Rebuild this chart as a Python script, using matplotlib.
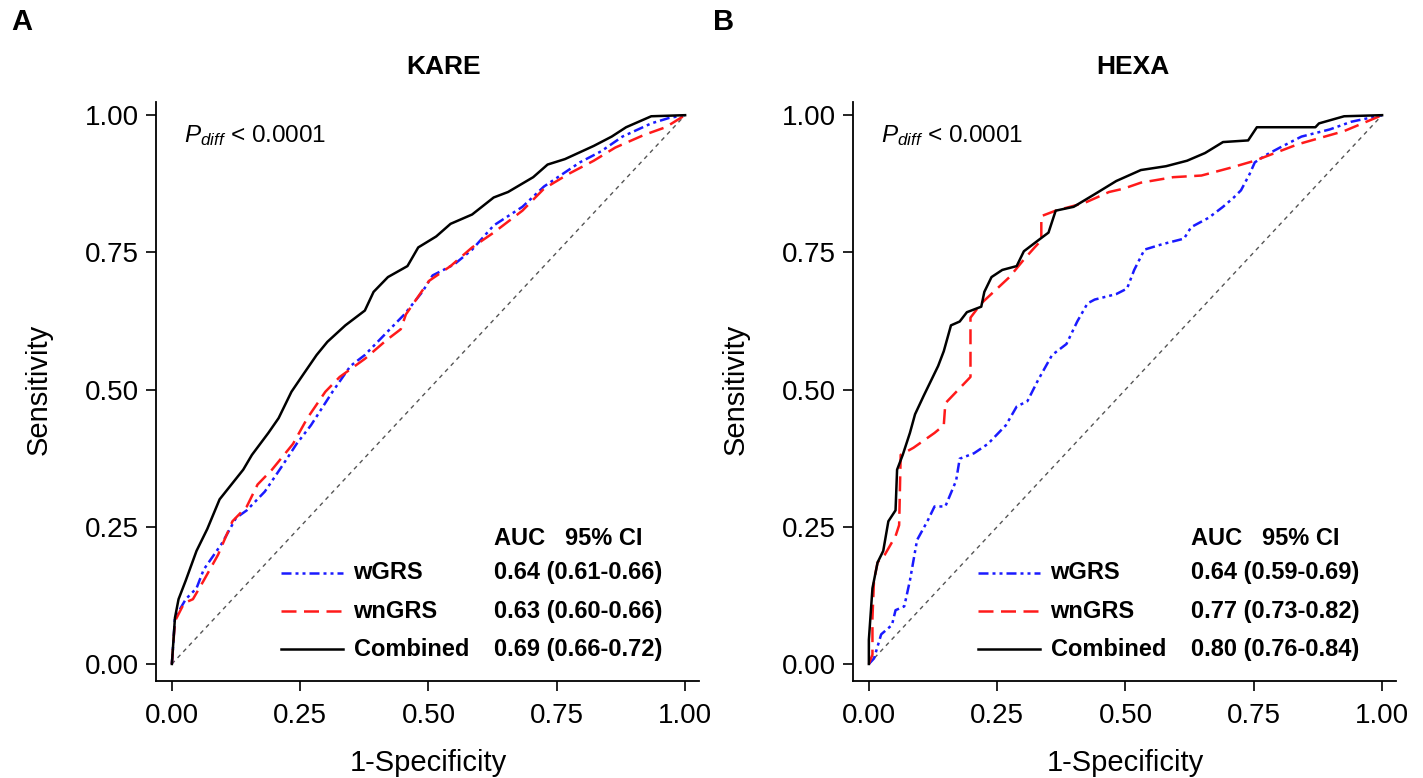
import matplotlib
matplotlib.use('Agg')
import matplotlib.pyplot as plt

plt.rcParams['font.family'] = ['Liberation Sans', 'DejaVu Sans']
plt.rcParams['mathtext.fontset'] = 'custom'
plt.rcParams['mathtext.rm'] = 'Liberation Sans'
plt.rcParams['mathtext.it'] = 'Liberation Sans:italic'

# ROC curves (1-specificity, sensitivity)
kare_comb_x = [0, 0.006, 0.013, 0.027, 0.048, 0.069, 0.093, 0.139, 0.156, 0.188, 0.208, 0.233, 0.257,
               0.282, 0.303, 0.338, 0.376, 0.393, 0.421, 0.459, 0.48, 0.515, 0.543, 0.585, 0.627, 0.655,
               0.704, 0.732, 0.766, 0.822, 0.857, 0.885, 0.934, 1.0]
kare_comb_y = [0, 0.084, 0.118, 0.152, 0.206, 0.246, 0.300, 0.354, 0.381, 0.421, 0.448, 0.496, 0.529,
               0.563, 0.587, 0.617, 0.644, 0.678, 0.705, 0.725, 0.759, 0.779, 0.802, 0.819, 0.850, 0.860,
               0.887, 0.910, 0.920, 0.944, 0.961, 0.978, 0.998, 1.0]
kare_wn_x = [0, 0.006, 0.024, 0.041, 0.062, 0.09, 0.118, 0.146, 0.167, 0.195, 0.236, 0.264, 0.299, 0.327,
             0.376, 0.418, 0.446, 0.456, 0.501, 0.543, 0.585, 0.627, 0.683, 0.725, 0.773, 0.822, 0.864,
             0.92, 0.962, 1.0]
kare_wn_y = [0, 0.078, 0.111, 0.118, 0.152, 0.199, 0.26, 0.287, 0.327, 0.354, 0.401, 0.448, 0.496, 0.523,
             0.556, 0.590, 0.610, 0.637, 0.698, 0.725, 0.759, 0.786, 0.826, 0.866, 0.893, 0.917, 0.941,
             0.964, 0.978, 1.0]
kare_w_x = [0, 0.006, 0.027, 0.048, 0.062, 0.097, 0.125, 0.146, 0.181, 0.215, 0.243, 0.271, 0.313, 0.348,
            0.376, 0.404, 0.453, 0.488, 0.508, 0.550, 0.585, 0.627, 0.683, 0.725, 0.795, 0.836, 0.878,
            0.934, 0.969, 1.0]
kare_w_y = [0, 0.084, 0.118, 0.138, 0.172, 0.219, 0.266, 0.280, 0.314, 0.361, 0.401, 0.435, 0.496, 0.543,
            0.563, 0.590, 0.637, 0.678, 0.708, 0.728, 0.755, 0.799, 0.833, 0.870, 0.914, 0.934, 0.961,
            0.985, 0.995, 1.0]

hexa_comb_x = [0, 0, 0.007, 0.017, 0.028, 0.038, 0.052, 0.055, 0.066, 0.073, 0.08, 0.09, 0.107, 0.121,
               0.135, 0.146, 0.160, 0.177, 0.191, 0.219, 0.225, 0.239, 0.26, 0.288, 0.302, 0.33, 0.35,
               0.364, 0.399, 0.44, 0.482, 0.53, 0.579, 0.62, 0.655, 0.69, 0.739, 0.756, 0.87, 0.877,
               0.926, 1.0]
hexa_comb_y = [0, 0.044, 0.138, 0.185, 0.206, 0.26, 0.28, 0.354, 0.381, 0.401, 0.421, 0.455, 0.489, 0.516,
               0.543, 0.570, 0.617, 0.624, 0.641, 0.651, 0.678, 0.705, 0.718, 0.725, 0.752, 0.772, 0.786,
               0.826, 0.833, 0.856, 0.880, 0.90, 0.907, 0.917, 0.931, 0.951, 0.954, 0.978, 0.978, 0.985,
               0.998, 1.0]
hexa_wn_x = [0, 0.007, 0.007, 0.01, 0.017, 0.031, 0.052, 0.059, 0.062, 0.087, 0.128, 0.146, 0.149, 0.198,
             0.198, 0.219, 0.274, 0.303, 0.323, 0.336, 0.336, 0.364, 0.42, 0.468, 0.496, 0.53, 0.593,
             0.648, 0.704, 0.752, 0.836, 0.926, 1.0]
hexa_wn_y = [0, 0.017, 0.084, 0.152, 0.185, 0.199, 0.233, 0.253, 0.381, 0.394, 0.421, 0.435, 0.475, 0.523,
             0.631, 0.657, 0.705, 0.738, 0.759, 0.772, 0.816, 0.826, 0.84, 0.860, 0.866, 0.877, 0.887,
             0.890, 0.904, 0.917, 0.947, 0.971, 1.0]
hexa_w_x = [0, 0.01, 0.024, 0.045, 0.052, 0.069, 0.08, 0.094, 0.114, 0.128, 0.149, 0.17, 0.177, 0.205,
            0.232, 0.267, 0.288, 0.309, 0.329, 0.357, 0.385, 0.406, 0.426, 0.44, 0.482, 0.503, 0.517,
            0.537, 0.572, 0.614, 0.628, 0.662, 0.69, 0.711, 0.725, 0.742, 0.752, 0.773, 0.801, 0.843,
            0.898, 0.94, 1.0]
hexa_w_y = [0, 0.01, 0.054, 0.071, 0.098, 0.105, 0.152, 0.226, 0.26, 0.287, 0.287, 0.334, 0.374, 0.384,
            0.401, 0.435, 0.469, 0.479, 0.516, 0.563, 0.583, 0.624, 0.657, 0.664, 0.674, 0.684, 0.718,
            0.755, 0.765, 0.775, 0.796, 0.813, 0.833, 0.850, 0.863, 0.893, 0.914, 0.927, 0.941, 0.961,
            0.974, 0.988, 1.0]

series_names = ['wGRS', 'wnGRS', 'Combined']
kare_auc = ['0.64 (0.61-0.66)', '0.63 (0.60-0.66)', '0.69 (0.66-0.72)']
hexa_auc = ['0.64 (0.59-0.69)', '0.77 (0.73-0.82)', '0.80 (0.76-0.84)']
ticks = [0, 0.25, 0.5, 0.75, 1.0]
tick_labels = ['0.00', '0.25', '0.50', '0.75', '1.00']

styles = [dict(color='#1a1aff', lw=1.8, dashes=(4, 1.6, 1.2, 1.6, 1.2, 1.6)),
          dict(color='#ff1a1a', lw=1.8, dashes=(6, 3)),
          dict(color='black', lw=1.8)]

fig = plt.figure(figsize=(14.23, 7.78), dpi=100)
ax_a = fig.add_axes([0.1096, 0.1247, 0.3816, 0.7442])
ax_b = fig.add_axes([0.5994, 0.1247, 0.3816, 0.7442])


def draw_panel(ax, curves, title, title_x, aucs):
    ax.plot([0, 1], [0, 1], color='#555555', lw=1, dashes=(3, 3))
    for (x, y), st in zip(curves, styles):
        ax.plot(x, y, **st)
    ax.set_xlim(-0.031, 1.027)
    ax.set_ylim(-0.031, 1.024)
    for s in ['top', 'right']:
        ax.spines[s].set_visible(False)
    for s in ['left', 'bottom']:
        ax.spines[s].set_linewidth(1.3)
    ax.set_xticks(ticks)
    ax.set_xticklabels(tick_labels)
    ax.set_yticks(ticks)
    ax.set_yticklabels(tick_labels)
    ax.tick_params(direction='out', length=7, width=1.2, labelsize=20)
    ax.tick_params(axis='x', pad=9)
    ax.tick_params(axis='y', pad=5)
    ax.set_xlabel('1-Specificity', fontsize=21)
    ax.set_ylabel('Sensitivity', fontsize=21)
    ax.xaxis.set_label_coords(0.501, -0.117)
    ax.yaxis.set_label_coords(-0.19, 0.503)
    ax.text(title_x, 1.06, title, transform=ax.transAxes, ha='center', va='center',
            fontsize=19, fontweight='bold')
    ax.text(0.023, 0.962, r'$\mathit{P}_{\mathit{diff}}$ < 0.0001', fontsize=17.5, va='center')

    # AUC table in the lower right
    ax.text(0.628, 0.228, 'AUC   95% CI', fontsize=17, fontweight='bold', va='center')
    rows_y = [0.166, 0.0965, 0.027]
    for name, auc, st, ry in zip(series_names, aucs, styles, rows_y):
        ax.plot([0.212, 0.334], [ry, ry], **st)
        ax.text(0.354, ry, name, fontsize=17, fontweight='bold', va='center')
        ax.text(0.628, ry, auc, fontsize=17, fontweight='bold', va='center')


draw_panel(ax_a, [(kare_w_x, kare_w_y), (kare_wn_x, kare_wn_y), (kare_comb_x, kare_comb_y)],
           'KARE', 0.53, kare_auc)
draw_panel(ax_b, [(hexa_w_x, hexa_w_y), (hexa_wn_x, hexa_wn_y), (hexa_comb_x, hexa_comb_y)],
           'HEXA', 0.515, hexa_auc)

fig.text(0.008, 0.972, 'A', fontsize=21, fontweight='bold', va='center')
fig.text(0.501, 0.972, 'B', fontsize=21, fontweight='bold', va='center')

fig.savefig('out.png', dpi=100)
